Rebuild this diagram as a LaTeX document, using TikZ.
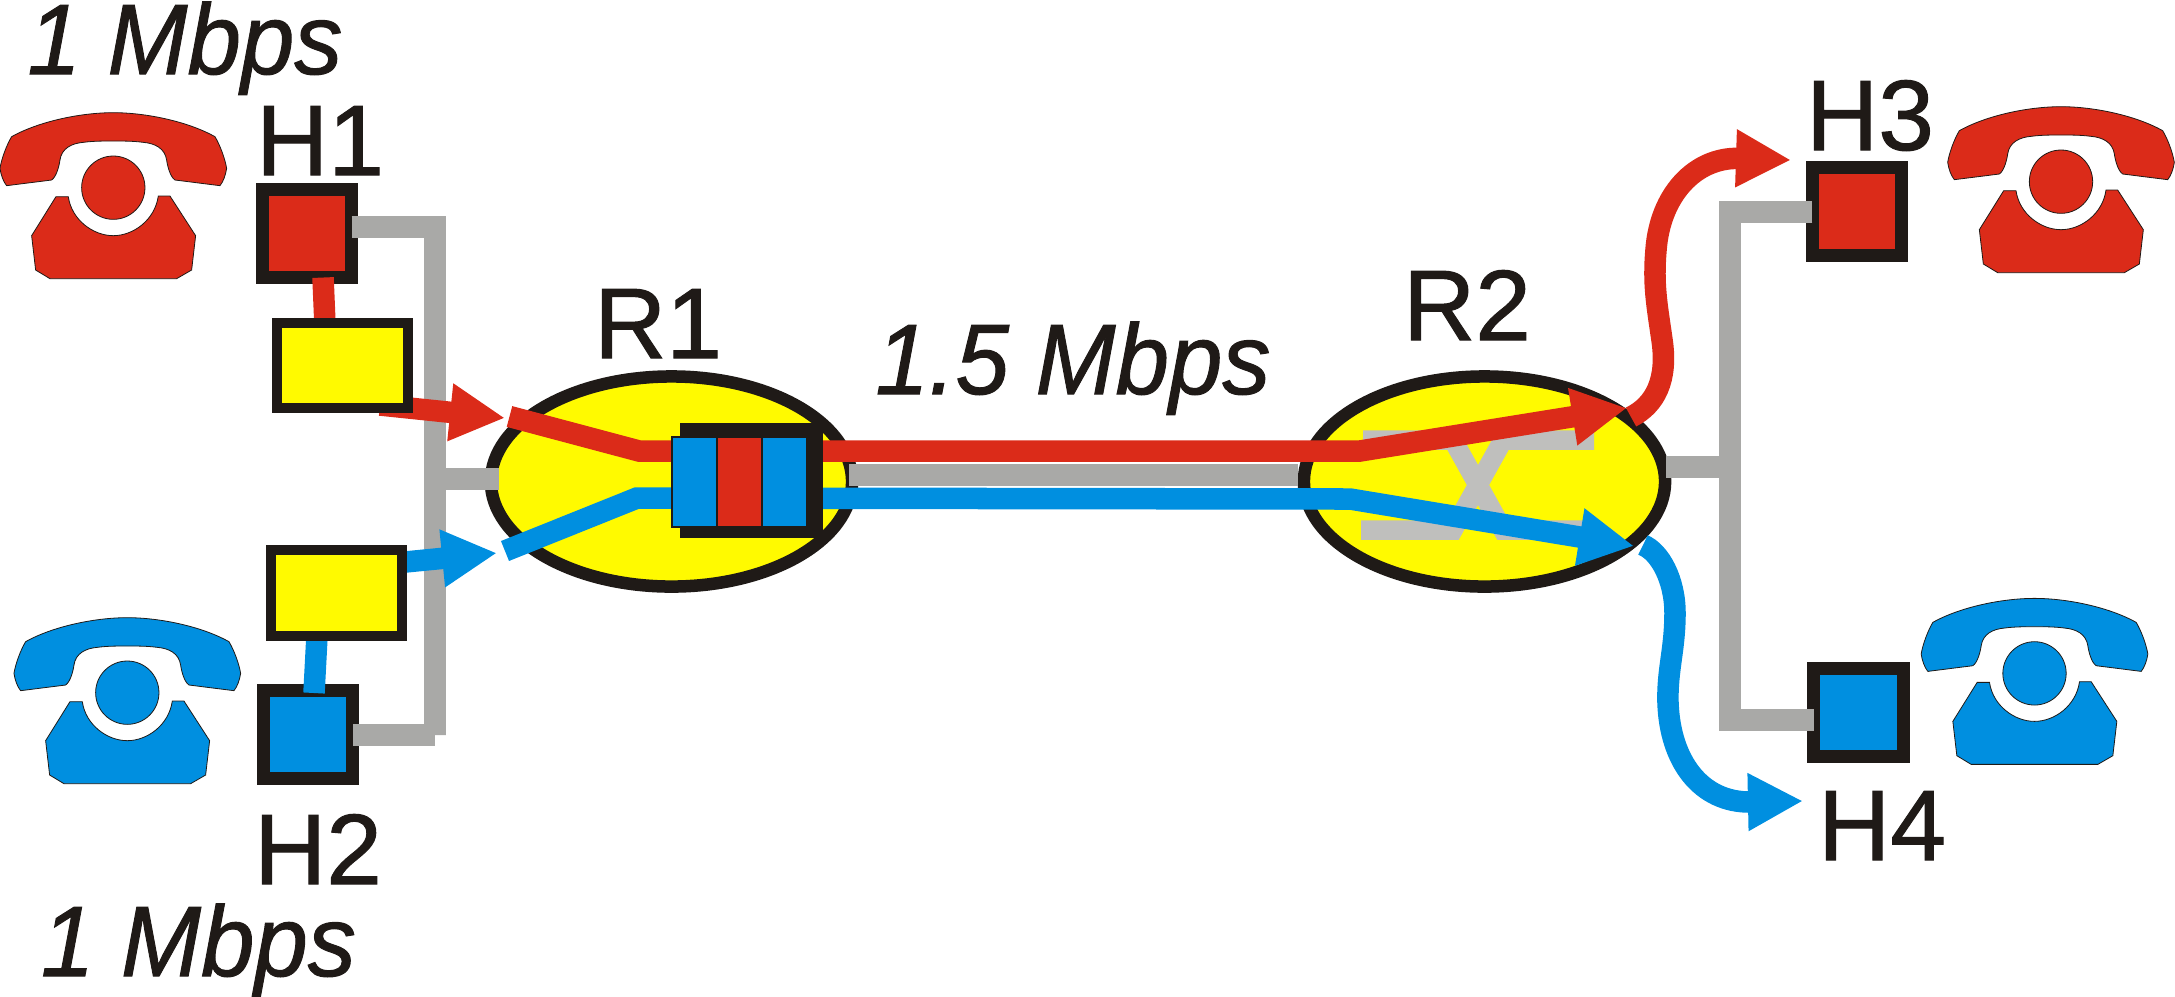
\documentclass[tikz,border=0pt]{standalone}
\usepackage{fontspec}
\setmainfont{Liberation Sans}[FakeBold=1]
\usetikzlibrary{arrows.meta,shapes.geometric}
\definecolor{ink}{HTML}{1F1A17}
\definecolor{netred}{HTML}{DB2B19}
\definecolor{netblue}{HTML}{008FE0}
\definecolor{netyellow}{HTML}{FFFA00}
\definecolor{wiregray}{HTML}{A9A9A7}
\definecolor{fabricgray}{HTML}{BFBFBD}
\tikzset{
  phone/.pic={
    \begin{scope}[scale=1/3]
      \path[pic actions] (-320,-13) -- (-185,-30) .. controls (-170,-40) and (-162,-75) .. (-160,-90)
        .. controls (-155,-125) and (-125,-140) .. (-90,-143) .. controls (-60,-147) and (-30,-147) .. (0,-147)
        .. controls (30,-147) and (60,-147) .. (90,-143) .. controls (125,-140) and (155,-125) .. (160,-90)
        .. controls (162,-75) and (170,-40) .. (185,-30) -- (320,-13)
        .. controls (330,-25) and (337,-45) .. (340,-65) .. controls (335,-95) and (320,-135) .. (305,-160)
        .. controls (225,-205) and (100,-232) .. (0,-232)
        .. controls (-100,-232) and (-225,-205) .. (-305,-160)
        .. controls (-320,-135) and (-335,-95) .. (-340,-65) .. controls (-337,-45) and (-330,-25) .. cycle;
      \path[pic actions] (0,-7) circle[radius=95];
      \path[pic actions] (-172,20) -- (-135,20) .. controls (-125,90) and (-60,137) .. (0,137)
        .. controls (60,137) and (125,90) .. (135,18) -- (170,18) -- (247,137) -- (235,240)
        -- (190,266) -- (-190,266) -- (-233,240) -- (-245,137) -- cycle;
    \end{scope}
  }
}
\begin{document}
\begin{tikzpicture}[x=0.01cm,y=-0.01cm,>={Triangle[length=.55cm,width=.54cm]},node distance=0.45cm,
    host node/.style={rectangle,draw=ink,line width=.13cm,inner sep=0,outer sep=0,minimum width=.89cm,minimum height=.88cm},
    nic node/.style={rectangle,draw=ink,fill=netyellow,line width=.1cm,inner sep=0,outer sep=0,minimum width=1.31cm,minimum height=.85cm},
    router node/.style={ellipse,draw=ink,fill=netyellow,line width=.125cm,inner sep=0,outer sep=0,minimum width=3.61cm,minimum height=2.1cm},
    slot node/.style={rectangle,draw=ink,line width=.015cm,inner sep=0,outer sep=0,minimum width=.45cm,minimum height=.9cm},
    lbl node/.style={inner sep=0,anchor=base,text=ink,font=\fontsize{28.45}{34}\selectfont},
    rate node/.style={lbl node,xscale=.96,font=\fontsize{28.45}{34}\selectfont\itshape},
    wire/.style={wiregray,line width=.22cm},
    fabric/.style={fabricgray,line width=.195cm},
    flow/.style={line width=.215cm}]
  \useasboundingbox (0,0) rectangle (2175,996);

  % routers
  \node[router node] (R1) at (671.5,481.5) {};
  \node[router node] (R2) at (1484.5,481.5) {};

  % hosts
  \node[host node,fill=netred] (H1) at (307,233.5) {};
  \node[host node,fill=netblue] (H2) at (308,734.5) {};
  \node[host node,fill=netred] (H3) at (1857,211.5) {};
  \node[host node,fill=netblue] (H4) at (1858.5,712.5) {};

  % free ends of the links
  \coordinate (busl) at (435,735);
  \coordinate (stubl) at (435,479);
  \coordinate (r1w) at (499,479);
  \coordinate (r1e) at (849,475);
  \coordinate (r2w) at (1298,475);
  \coordinate (r2e) at (1666,467);
  \coordinate (stubr) at (1730,467);
  \coordinate (busr) at (1730,719);
  \coordinate (n1top) at (325,325);
  \coordinate (n2bot) at (317,636);
  \coordinate (h2top) at (314,693);
  \coordinate (redout) at (380,405);
  \coordinate (redin) at (505,418);
  \coordinate (blueout) at (395,563);
  \coordinate (bluein) at (497,553);
  \coordinate (reda) at (509.5,416.5);
  \coordinate (redb) at (639,451);
  \coordinate (redc) at (1360,451);
  \coordinate (redd) at (1627,408);
  \coordinate (bluea) at (505,551);
  \coordinate (blueb) at (637,498);
  \coordinate (bluec) at (1350,499);
  \coordinate (blued) at (1634,546);
  \coordinate (redcurve) at (1631,417);
  \coordinate (redtip) at (1791,160);
  \coordinate (bluecurve) at (1643,545);
  \coordinate (bluetip) at (1803,801);

  % wires
  \draw[wire] (H1.8) -| (busl) |- (H2.east);
  \draw[wire] (stubl) -- (r1w);
  \draw[wire] (r1e) -- (r2w);
  \draw[wire] (r2e) -- (stubr);
  \draw[wire] (H3.west) -| (busr) |- (H4.189);

  % switching fabric in R2
  \draw[fabric] (1363,440) -- (1453,440) -- (1503,530) -- (1592,530);
  \draw[fabric] (1361,530) -- (1453,530) -- (1503,440) -- (1594,440);

  % flows
  \draw[netred,flow] (H1.-70) -- (n1top);
  \draw[netblue,flow] (n2bot) -- (h2top);
  \draw[->,netred,flow] (redout) -- (redin);
  \draw[->,netblue,flow] (blueout) -- (bluein);
  \draw[->,netred,flow] (reda) -- (redb) -- (redc) -- (redd);
  \draw[->,netblue,flow] (bluea) -- (blueb) -- (bluec) -- (blued);
  \draw[->,netred,flow] (redcurve) .. controls (1655,405) and (1668,380) .. (1662,340)
    .. controls (1657,305) and (1653,285) .. (1656,250) .. controls (1660,195) and (1695,157) .. (redtip);
  \draw[->,netblue,flow] (bluecurve) .. controls (1660,552) and (1675,580) .. (1675,613)
    .. controls (1675,650) and (1667,670) .. (1668,703) .. controls (1670,760) and (1700,803) .. (bluetip);

  % interfaces
  \node[nic node] (N1) at (342.5,365.5) {};
  \node[nic node] (N2) at (336.5,593) {};

  % output queue of R1
  \node[rectangle,fill=ink,inner sep=0,minimum width=1.43cm,minimum height=1.15cm] (Q) at (751.5,480.5) {};
  \node[slot node,fill=netblue] (Q1) at (694.5,482) {};
  \node[slot node,fill=netred] (Q2) [right of=Q1] {};
  \node[slot node,fill=netblue] (Q3) [right of=Q2] {};

  % telephones
  \pic[fill=netred,draw=ink,line width=.008cm] at (113.3,190) {phone};
  \pic[fill=netblue,draw=ink,line width=.008cm] at (127.3,695) {phone};
  \pic[fill=netred,draw=ink,line width=.008cm] at (2061,184) {phone};
  \pic[fill=netblue,draw=ink,line width=.008cm] at (2034.5,675.7) {phone};

  % labels
  \node[lbl node] (lH1) at (320,175) {H1};
  \node[lbl node] (lH2) at (318,884) {H2};
  \node[lbl node] (lH3) at (1870,150) {H3};
  \node[lbl node] (lH4) at (1882,860) {H4};
  \node[lbl node] (lR1) at (658,358) {R1};
  \node[lbl node] (lR2) at (1467,340) {R2};
  \node[rate node] (top rate) at (185,74) {1 Mbps};
  \node[rate node] (bottom rate) at (198.5,976) {1 Mbps};
  \node[rate node] (core rate) at (1073,394) {1.5 Mbps};
\end{tikzpicture}
\end{document}
